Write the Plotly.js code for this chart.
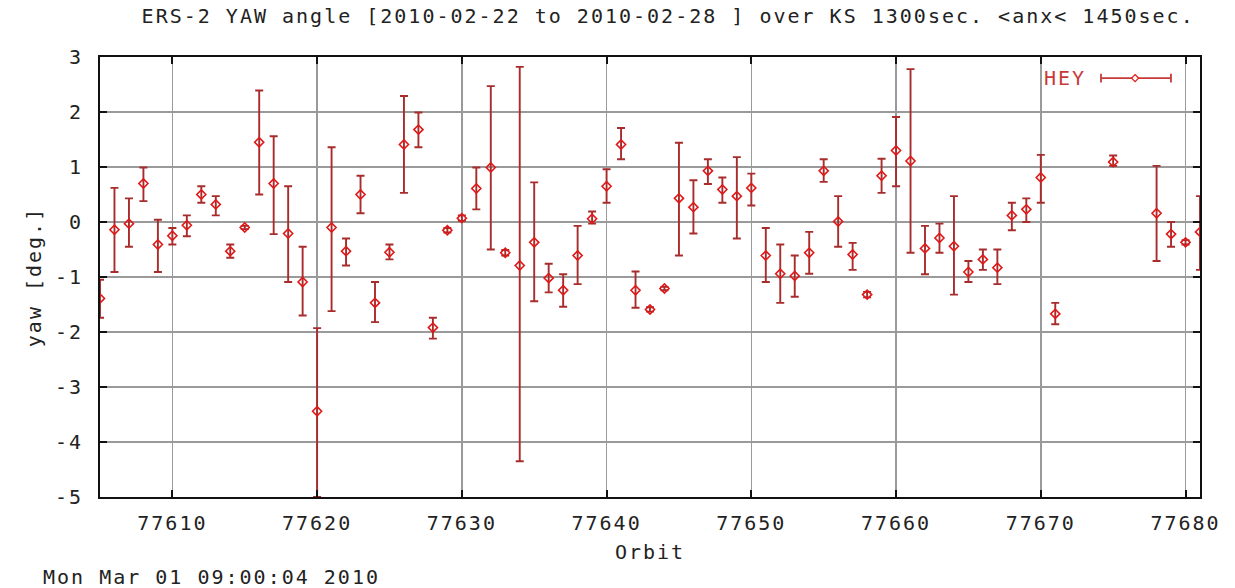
<!DOCTYPE html>
<html>
<head>
<meta charset="utf-8">
<script src="https://cdn.plot.ly/plotly-3.0.1.min.js"></script>
<style>
html,body{margin:0;padding:0;background:#fff;}
#chart{width:1235px;height:588px;}
.main-svg text{letter-spacing:2px;}
</style>
</head>
<body>
<div id="chart"></div>
<script>
// Orbit numbers
var orbit = [77605,77606,77607,77608,77609,77610,77611,77612,77613,77614,
             77615,77616,77617,77618,77619,77620,77621,77622,77623,77624,
             77625,77626,77627,77628,77629,77630,77631,77632,77633,77634,
             77635,77636,77637,77638,77639,77640,77641,77642,77643,77644,
             77645,77646,77647,77648,77649,77650,77651,77652,77653,77654,
             77655,77656,77657,77658,77659,77660,77661,77662,77663,77664,
             77665,77666,77667,77668,77669,77670,77671,77675,77678,77679,
             77680,77681];
// Mean yaw [deg.]
var yaw = [-1.39,-0.14,-0.03,0.70,-0.41,-0.25,-0.06,0.50,0.32,-0.53,
           -0.10,1.45,0.70,-0.21,-1.09,-3.44,-0.10,-0.53,0.50,-1.47,
           -0.55,1.41,1.68,-1.92,-0.15,0.07,0.61,0.99,-0.56,-0.79,
           -0.37,-1.02,-1.24,-0.61,0.06,0.65,1.41,-1.24,-1.59,-1.21,
           0.43,0.27,0.93,0.59,0.47,0.62,-0.61,-0.94,-0.98,-0.56,
           0.93,0.01,-0.59,-1.32,0.84,1.30,1.11,-0.48,-0.29,-0.44,
           -0.91,-0.68,-0.83,0.12,0.23,0.81,-1.67,1.09,0.16,-0.22,
           -0.37,-0.18];
// Upper end of the error bar
var yawHigh = [-1.05,0.62,0.43,0.99,0.04,-0.11,0.12,0.65,0.47,-0.41,
               -0.07,2.39,1.56,0.65,-0.45,-1.93,1.36,-0.30,0.84,-1.09,
               -0.41,2.29,1.99,-1.74,-0.11,0.12,0.99,2.47,-0.51,2.82,
               0.72,-0.76,-0.95,-0.07,0.19,0.96,1.71,-0.90,-1.55,-1.18,
               1.44,0.76,1.14,0.81,1.18,0.88,-0.11,-0.41,-0.61,-0.18,
               1.14,0.47,-0.38,-1.27,1.15,1.91,2.78,-0.07,-0.03,0.47,
               -0.71,-0.50,-0.50,0.35,0.43,1.22,-1.47,1.21,1.02,0.00,
               -0.33,0.47];
// Lower end of the error bar
var yawLow = [-1.74,-0.91,-0.45,0.38,-0.91,-0.41,-0.26,0.35,0.12,-0.65,
              -0.13,0.50,-0.22,-1.09,-1.70,-5.00,-1.62,-0.79,0.16,-1.82,
              -0.68,0.53,1.36,-2.12,-0.19,0.02,0.23,-0.50,-0.61,-4.35,
              -1.44,-1.28,-1.54,-1.13,-0.03,0.35,1.14,-1.56,-1.63,-1.24,
              -0.61,-0.21,0.69,0.35,-0.30,0.30,-1.09,-1.47,-1.36,-0.94,
              0.73,-0.45,-0.87,-1.37,0.53,0.65,-0.56,-0.95,-0.56,-1.32,
              -1.09,-0.87,-1.13,-0.15,0.00,0.35,-1.86,1.02,-0.71,-0.45,
              -0.41,-0.87];
var xTicks = [77610,77620,77630,77640,77650,77660,77670,77680];
var yTicks = [-5,-4,-3,-2,-1,0,1,2,3];
var seriesName = 'HEY';

var errPlus = yawHigh.map(function(h,i){return +(h - yaw[i]).toFixed(3);});
var errMinus = yawLow.map(function(l,i){return +(yaw[i] - l).toFixed(3);});

var FONT = 'DejaVu Sans Mono, Liberation Mono, monospace';
var txt = '#222222';

var trace = {
  x: orbit, y: yaw, type: 'scatter', mode: 'markers', name: seriesName,
  marker: {symbol: 'diamond-open', size: 7, color: '#e01818', line: {width: 1.6, color: '#e01818'}},
  error_y: {type: 'data', symmetric: false, array: errPlus, arrayminus: errMinus,
            color: '#a82c2c', thickness: 1.9, width: 4},
  showlegend: false
};

// legend glyph (paper coords)
var ly = 0.952, lx0 = 0.910, lx1 = 0.9736, lxm = 0.941;
var legCol = '#c83a3a';
var shapes = [
  {type:'line', xref:'paper', yref:'paper', x0:lx0, x1:lx1, y0:ly, y1:ly, line:{color:legCol, width:1.8}},
  {type:'line', xref:'paper', yref:'paper', x0:lx0, x1:lx0, y0:ly-0.01, y1:ly+0.01, line:{color:legCol, width:1.8}},
  {type:'line', xref:'paper', yref:'paper', x0:lx1, x1:lx1, y0:ly-0.01, y1:ly+0.01, line:{color:legCol, width:1.8}},
  {type:'path', xref:'paper', yref:'paper',
   path:'M '+(lxm-0.0032)+' '+ly+' L '+lxm+' '+(ly+0.008)+' L '+(lxm+0.0032)+' '+ly+' L '+lxm+' '+(ly-0.008)+' Z',
   line:{color:'#e01818', width:1.3}, fillcolor:'rgba(255,255,255,1)'}
];

var layout = {
  width: 1235, height: 588,
  margin: {l: 100, r: 35, t: 57, b: 91},
  paper_bgcolor: '#ffffff', plot_bgcolor: '#ffffff',
  font: {family: FONT, size: 20, color: txt},
  title: {text: 'ERS-2 YAW angle [2010-02-22 to 2010-02-28 ] over KS 1300sec. <anx< 1450sec.',
          font: {family: FONT, size: 20, color: txt},
          xref: 'container', x: 0.541, xanchor: 'center',
          yref: 'container', y: 0.972, yanchor: 'middle'},
  xaxis: {range: [77605, 77681], tickmode: 'array', tickvals: xTicks, ticktext: xTicks.map(String),
          showgrid: true, gridcolor: '#9a9a9a', gridwidth: 1.5, zeroline: false,
          showline: true, linecolor: '#111', linewidth: 2, mirror: 'ticks',
          ticks: 'inside', ticklen: 7, tickwidth: 2, tickcolor: '#111',
          ticklabelstandoff: 7,
          tickfont: {family: FONT, size: 20, color: txt},
          title: {text: 'Orbit', font: {family: FONT, size: 20, color: txt}, standoff: 11}},
  yaxis: {range: [-5, 3], tickmode: 'array', tickvals: yTicks, ticktext: yTicks.map(String),
          showgrid: true, gridcolor: '#9a9a9a', gridwidth: 1.5, zeroline: false,
          showline: true, linecolor: '#111', linewidth: 2, mirror: 'ticks',
          ticks: 'inside', ticklen: 7, tickwidth: 2, tickcolor: '#111',
          ticklabelstandoff: 11,
          tickfont: {family: FONT, size: 20, color: txt},
          title: {text: 'yaw [deg.]', font: {family: FONT, size: 20, color: txt}, standoff: 12}},
  shapes: shapes,
  annotations: [
    {text: seriesName, xref: 'paper', yref: 'paper', x: 0.8955, y: ly, xanchor: 'right', yanchor: 'middle',
     showarrow: false, font: {family: FONT, size: 20, color: '#c83a3a'}},
    {text: 'Mon Mar 01 09:00:04 2010', xref: 'paper', yref: 'paper', x: 0.1014, y: -0.182,
     xanchor: 'center', yanchor: 'middle', showarrow: false, font: {family: FONT, size: 20, color: txt}}
  ],
  showlegend: false
};

Plotly.newPlot('chart', [trace], layout, {displayModeBar: false, staticPlot: true});
</script>
</body>
</html>
